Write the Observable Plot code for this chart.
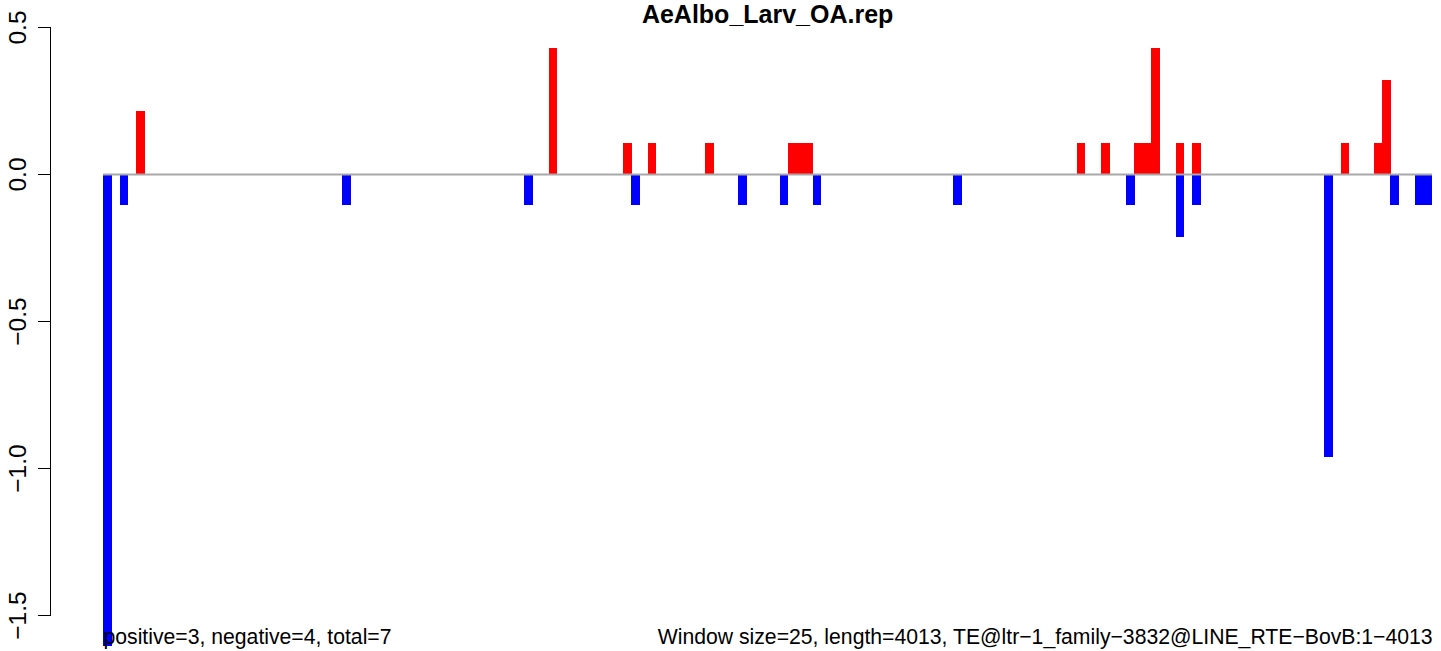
<!DOCTYPE html>
<html><head><meta charset="utf-8">
<script src="https://cdn.jsdelivr.net/npm/d3@7"></script>
<script src="https://cdn.jsdelivr.net/npm/@observablehq/plot@0.6"></script>
<style>body{margin:0;background:#fff} svg{display:block}</style>
</head><body><div id="chart"></div>
<script>
const title = "AeAlbo_Larv_OA.rep";
const nWindows = 161; // 25-bp windows along 4013 bp
const posWindow = [4, 54, 63, 66, 73, 83, 84, 85, 118, 121, 125, 126, 127, 130, 132, 150, 154, 155];
const posValue  = [0.214, 0.429, 0.107, 0.107, 0.107, 0.107, 0.107, 0.107, 0.107, 0.107, 0.107, 0.107, 0.429, 0.107, 0.107, 0.107, 0.107, 0.321];
const negWindow = [0, 2, 29, 51, 64, 77, 82, 86, 103, 124, 130, 132, 148, 156, 159, 160];
const negValue  = [-1.607, -0.107, -0.107, -0.107, -0.107, -0.107, -0.107, -0.107, -0.107, -0.107, -0.214, -0.107, -0.964, -0.107, -0.107, -0.107];
const yTicks = [-1.5, -1.0, -0.5, 0.0, 0.5];
const leftNote = "positive=3, negative=4, total=7";
const rightNote = "Window size=25, length=4013, TE@ltr\u22121_family\u22123832@LINE_RTE\u2212BovB:1\u22124013";

const barSpan = 1.09; // bar width in windows
const pos = posWindow.map((w, i) => ({w, v: posValue[i]}));
const neg = negWindow.map((w, i) => ({w, v: negValue[i]}));
const font = "'Liberation Sans', Arial, Helvetica, sans-serif";

const chart = Plot.plot({
  width: 1441,
  height: 651,
  marginLeft: 50,
  marginRight: 0,
  marginTop: 27,
  marginBottom: 36,
  style: {fontFamily: font, background: "#fff", color: "#000"},
  x: {domain: [0, nWindows], range: [103, 1431.25], axis: null},
  y: {domain: [-1.5, 0.5], range: [615, 27], axis: null},
  marks: [
    Plot.rect(pos, {x1: "w", x2: d => d.w + barSpan, y1: 0, y2: "v", fill: "#ff0000", shapeRendering: "crispEdges"}),
    Plot.rect(neg, {x1: "w", x2: d => d.w + barSpan, y1: 0, y2: "v", fill: "#0000ff", shapeRendering: "crispEdges"}),
    Plot.ruleY([0], {x1: 0, x2: nWindows + 0.1, stroke: "#a8a8a8", strokeWidth: 2}),
    Plot.frame({anchor: "left", stroke: "#000", strokeWidth: 1}),
    Plot.axisY({ticks: yTicks, tickSize: 12, tickFormat: () => "", label: null, stroke: "#000", strokeOpacity: 1}),
    Plot.text(yTicks, {y: d => d, frameAnchor: "left", dx: -32, rotate: -90, text: d => d3.format(".1f")(d), fontSize: 24.5, textAnchor: "middle", lineAnchor: "middle", fill: "#000"}),
    Plot.text([title], {x: nWindows / 2, frameAnchor: "top", dy: -5, lineAnchor: "bottom", text: d => d, fontSize: 25, fontWeight: "bold", fill: "#000"}),
    Plot.text([leftNote], {x: 0, frameAnchor: "bottom", dy: 28, lineAnchor: "bottom", textAnchor: "start", text: d => d, fontSize: 21.2, fill: "#000"}),
    Plot.text([rightNote], {x: nWindows + 0.1, frameAnchor: "bottom", dy: 28, lineAnchor: "bottom", textAnchor: "end", text: d => d, fontSize: 21.2, fill: "#000"})
  ]
});
document.getElementById("chart").append(chart);
</script>
</body></html>
